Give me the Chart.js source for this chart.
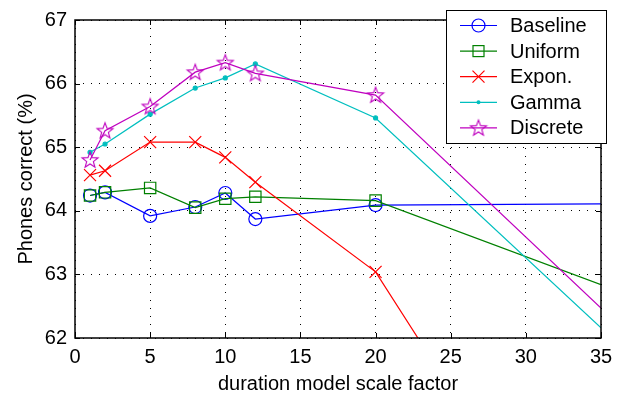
<!DOCTYPE html>
<html>
<head>
<meta charset="utf-8">
<script src="https://cdn.jsdelivr.net/npm/chart.js@4/dist/chart.umd.min.js"></script>
<style>
  html, body { margin: 0; padding: 0; background: #fff; }
  canvas { display: block; }
</style>
</head>
<body>
<canvas id="chart" width="626" height="396"></canvas>
<script>
// scale factors on the x axis
const scaleFactors = [1, 2, 5, 8, 10, 12, 20, 35];

// phones correct (%) per method
const baseline = [64.24, 64.29, 63.92, 64.06, 64.28, 63.87, 64.09, 64.11];
const uniform  = [64.24, 64.29, 64.36, 64.05, 64.19, 64.22, 64.16, 62.84];
const expon    = [64.56, 64.63, 65.08, 65.08, 64.84, 64.45, 63.04, 57.5];
const gamma    = [64.92, 65.05, 65.52, 65.93, 66.09, 66.31, 65.46, 62.16];
const discrete = [64.80, 65.26, 65.64, 66.18, 66.33, 66.16, 65.82, 62.47];

const seriesNames = ['Baseline', 'Uniform', 'Expon.', 'Gamma', 'Discrete'];
const xTicks = [0, 5, 10, 15, 20, 25, 30, 35];
const yTicks = [62, 63, 64, 65, 66, 67];

const FONT = 'Liberation Sans, Arial, Helvetica, sans-serif';

// 五角星 marker（空心）
function makeStar(color) {
    const c = document.createElement('canvas');
    c.width = 20; c.height = 20;
    const g = c.getContext('2d');
    g.strokeStyle = color;
    g.lineWidth = 1.1;
    g.beginPath();
    for (let i = 0; i < 10; i++) {
        const r = i % 2 === 0 ? 8.4 : 3.5;
        const a = -Math.PI / 2 + i * Math.PI / 5;
        const px = 10 + r * Math.cos(a), py = 10.5 + r * Math.sin(a);
        if (i === 0) g.moveTo(px, py); else g.lineTo(px, py);
    }
    g.closePath();
    g.stroke();
    return c;
}

const starImg = makeStar('#bf00bf');

const styles = [
    { color: '#0000ff', pointStyle: 'circle', radius: 6.5 },
    { color: '#008000', pointStyle: 'rect', radius: 8 },
    { color: '#ff0000', pointStyle: 'crossRot', radius: 8.5 },
    { color: '#00bfbf', pointStyle: 'circle', radius: 2, fill: true },
    { color: '#bf00bf', pointStyle: starImg, radius: 9 }
];

const allValues = [baseline, uniform, expon, gamma, discrete];

const datasets = allValues.map((vals, i) => {
    const st = styles[i];
    return {
        label: seriesNames[i],
        data: scaleFactors.map((x, j) => ({ x: x, y: vals[j] })),
        borderColor: st.color,
        backgroundColor: st.fill ? st.color : 'rgba(0,0,0,0)',
        borderWidth: 1.2,
        pointStyle: st.pointStyle,
        pointRadius: ctx => scaleFactors[ctx.dataIndex] >= 35 ? 0 : st.radius,
        pointBorderWidth: 1.2,
        pointBorderColor: st.color,
        pointBackgroundColor: st.fill ? st.color : 'rgba(0,0,0,0)',
        tension: 0,
        order: 5 - i
    };
});

// 边框、内向刻度线和图例
const framePlugin = {
    id: 'frame',
    afterDraw(chart) {
        const { ctx, chartArea: a, scales } = chart;
        ctx.save();
        ctx.strokeStyle = '#000';
        ctx.lineWidth = 1.5;
        ctx.strokeRect(a.left, a.top, a.right - a.left, a.bottom - a.top);

        ctx.lineWidth = 1;
        ctx.beginPath();
        xTicks.forEach(v => {
            const px = Math.round(scales.x.getPixelForValue(v)) + 0.5;
            ctx.moveTo(px, a.bottom); ctx.lineTo(px, a.bottom - 5);
            ctx.moveTo(px, a.top); ctx.lineTo(px, a.top + 5);
        });
        yTicks.forEach(v => {
            const py = Math.round(scales.y.getPixelForValue(v)) + 0.5;
            ctx.moveTo(a.left, py); ctx.lineTo(a.left + 5, py);
            ctx.moveTo(a.right, py); ctx.lineTo(a.right - 5, py);
        });
        ctx.stroke();

        // 图例
        const bx = 446.5, by = 10.5, bw = 160, bh = 133;
        ctx.fillStyle = '#fff';
        ctx.fillRect(bx, by, bw, bh);
        ctx.strokeStyle = '#000';
        ctx.lineWidth = 1;
        ctx.strokeRect(bx, by, bw, bh);

        ctx.font = '20px ' + FONT;
        ctx.textBaseline = 'middle';
        ctx.textAlign = 'left';
        seriesNames.forEach((name, i) => {
            const st = styles[i];
            const y = 25.5 + i * 25.6;
            ctx.strokeStyle = st.color;
            ctx.lineWidth = 1.2;
            ctx.beginPath();
            ctx.moveTo(460, y); ctx.lineTo(497, y);
            ctx.stroke();
            const mx = 478.5;
            ctx.beginPath();
            if (i === 0) {
                ctx.arc(mx, y, 6.5, 0, Math.PI * 2);
                ctx.stroke();
            } else if (i === 1) {
                ctx.strokeRect(mx - 5.5, y - 5.5, 11, 11);
            } else if (i === 2) {
                ctx.moveTo(mx - 6, y - 6); ctx.lineTo(mx + 6, y + 6);
                ctx.moveTo(mx + 6, y - 6); ctx.lineTo(mx - 6, y + 6);
                ctx.stroke();
            } else if (i === 3) {
                ctx.fillStyle = st.color;
                ctx.arc(mx, y, 2, 0, Math.PI * 2);
                ctx.fill();
            } else {
                ctx.drawImage(starImg, mx - 10, y - 10);
            }
            ctx.fillStyle = '#000';
            ctx.fillText(name, 510, y + 1);
        });
        ctx.restore();
    }
};

new Chart(document.getElementById('chart').getContext('2d'), {
    type: 'line',
    data: { datasets: datasets },
    options: {
        responsive: false,
        devicePixelRatio: 1,
        animation: false,
        layout: { padding: { top: 10, right: 25, left: 0, bottom: 0 } },
        plugins: {
            legend: { display: false },
            tooltip: { enabled: false }
        },
        scales: {
            x: {
                type: 'linear',
                min: 0,
                max: 35,
                afterBuildTicks: s => { s.ticks = xTicks.map(v => ({ value: v })); },
                afterFit: s => { s.height = 58; },
                ticks: { color: '#000', font: { family: FONT, size: 20 }, padding: 7, maxRotation: 0 },
                grid: { color: '#000', lineWidth: 1, drawTicks: false },
                border: { display: false, dash: [1, 7] },
                title: {
                    display: true,
                    text: 'duration model scale factor',
                    color: '#000',
                    font: { family: FONT, size: 20 },
                    padding: { top: 0, bottom: 0 }
                }
            },
            y: {
                type: 'linear',
                min: 62,
                max: 67,
                afterBuildTicks: s => { s.ticks = yTicks.map(v => ({ value: v })); },
                afterFit: s => { s.width = 75; },
                ticks: { color: '#000', font: { family: FONT, size: 20 }, padding: 8 },
                grid: { color: '#000', lineWidth: 1, drawTicks: false },
                border: { display: false, dash: [1, 7] },
                title: {
                    display: true,
                    text: 'Phones correct (%)',
                    color: '#000',
                    font: { family: FONT, size: 20 },
                    padding: { top: 14, bottom: 0 }
                }
            }
        }
    },
    plugins: [framePlugin]
});
</script>
</body>
</html>
